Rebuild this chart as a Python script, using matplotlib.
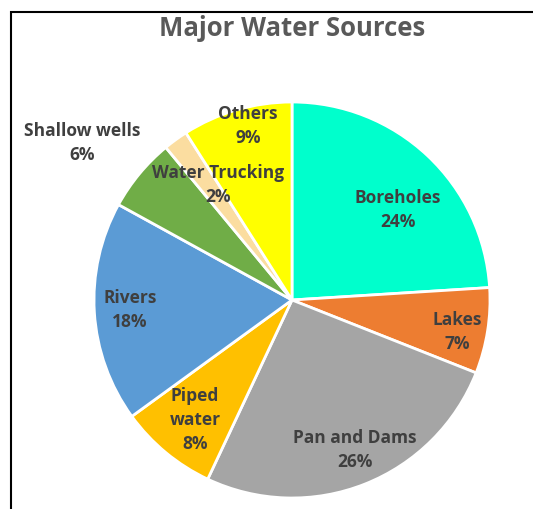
import matplotlib.pyplot as plt
from matplotlib.patches import Rectangle

# === Data ===
sources = ["Boreholes", "Lakes", "Pan and Dams", "Piped\nwater", "Rivers",
           "Shallow wells", "Water Trucking", "Others"]
shares = [24, 7, 26, 8, 18, 6, 2, 9]
colors = ["#00FFCC", "#ED7D31", "#A5A5A5", "#FFC000", "#5B9BD5",
          "#70AD47", "#FBDDA0", "#FFFF00"]
# label positions in units of pie radius (centre = 0, 0)
label_pos = [(0.535, 0.455), (0.833, -0.162), (0.318, -0.758), (-0.49, -0.606),
             (-0.818, -0.05), (-1.06, 0.793), (-0.374, 0.581), (-0.222, 0.879)]

plt.rcParams['font.family'] = ['Open Sans', 'DejaVu Sans']

fig = plt.figure(figsize=(5.33, 5.09), dpi=100)
ax = fig.add_axes([0, 0, 1, 1])

ax.pie(shares, colors=colors, startangle=90, counterclock=False, radius=1,
       wedgeprops=dict(edgecolor="white", linewidth=2))

for name, val, (x, y) in zip(sources, shares, label_pos):
    ax.text(x, y, f"{name}\n{val}%", ha="center", va="center", fontsize=12.5,
            fontweight="bold", color="#3F3F3F", linespacing=1.45)

# pixel-matched view: centre at (292, 300), radius 198 px
ax.set_xlim(-292 / 198, (533 - 292) / 198)
ax.set_ylim(-(509 - 300) / 198, 300 / 198)
ax.set_aspect("equal")
ax.axis("off")

fig.text(292 / 533, 1 - 28 / 509, "Major Water Sources", ha="center", va="center",
         fontsize=18.5, fontweight="bold", color="#595959")

# outer frame (cut off at right and bottom)
fig.patches.append(Rectangle((11 / 533, -0.1), 1.2, 1.1 - 12 / 509,
                             transform=fig.transFigure, fill=False,
                             edgecolor="black", linewidth=1.5))

fig.savefig("out.png", dpi=100)
